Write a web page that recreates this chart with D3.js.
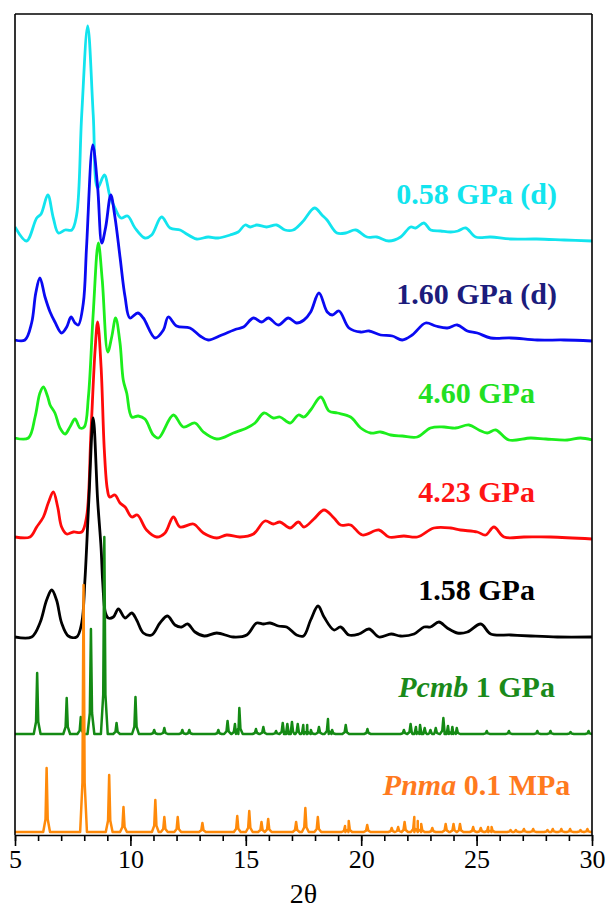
<!DOCTYPE html>
<html>
<head>
<meta charset="utf-8">
<script src="https://cdn.jsdelivr.net/npm/d3@7"></script>
<style>
  html, body { margin: 0; padding: 0; background: #fff; }
  svg { display: block; }
  text { font-family: "Liberation Serif", "Times New Roman", serif; }
</style>
</head>
<body>
<svg id="chart" width="608" height="910" font-family="Liberation Serif, Times New Roman, serif"></svg>
<script>
// ---- Measured patterns: [2θ, intensity] (arbitrary units) ----
const p058d = [[5.0,14],[5.5,0],[5.94,23],[6.13,27],[6.42,46],[6.66,23],[6.88,8],[7.17,11],[7.46,11],[7.67,26],[7.89,126],[8.15,215],[8.39,126],[8.58,53],[8.87,66],[9.12,44],[9.33,33],[9.59,23],[9.88,25],[10.2,13],[10.63,3],[10.92,6],[11.35,24],[11.72,13],[12.15,11],[12.37,8],[12.87,2],[13.37,4],[13.8,3],[14.32,6],[14.67,9],[14.97,16],[15.2,14],[15.47,16],[15.9,14],[16.34,16],[16.7,11],[17.05,11],[17.45,19],[17.98,33],[18.3,26],[18.52,21],[18.95,8],[19.33,8],[19.76,11],[20.25,4],[20.68,4],[21.2,0],[21.71,4],[22.14,14],[22.36,13],[22.72,18],[23.01,11],[23.44,10],[23.88,9],[24.19,10],[24.53,13],[24.96,4],[25.61,4],[26.48,2],[27.6,2],[28.8,1],[30,0]];

const p160d = [[5.0,1],[5.43,1],[5.72,18],[5.9,48],[6.08,63],[6.3,44],[6.52,29],[6.73,19],[7.02,8],[7.24,14],[7.43,24],[7.6,18],[7.74,16],[7.96,38],[8.1,94],[8.37,196],[8.58,154],[8.76,98],[8.93,114],[9.15,146],[9.33,124],[9.55,84],[9.77,44],[9.98,23],[10.32,28],[10.56,23],[11.07,3],[11.43,11],[11.64,24],[12.0,15],[12.58,13],[13.02,5],[13.37,1],[13.96,6],[14.6,12],[14.9,14],[15.33,23],[15.69,19],[15.98,23],[16.41,16],[16.84,23],[17.2,18],[17.52,21],[17.81,29],[18.17,48],[18.53,29],[18.75,26],[19.04,30],[19.47,13],[19.98,9],[20.34,10],[20.84,6],[21.35,5],[21.78,1],[22.21,6],[22.79,18],[23.23,15],[23.73,13],[24.16,16],[24.6,10],[25.03,8],[25.61,3],[26.48,3],[27.63,1],[28.79,1],[30,0]];

const p460 = [[5.0,2],[5.58,2],[5.87,23],[6.08,47],[6.23,53],[6.42,43],[6.52,35],[6.73,27],[6.95,12],[7.17,6],[7.38,13],[7.6,21],[7.82,12],[8.0,13],[8.18,43],[8.39,127],[8.61,197],[8.78,160],[9.02,88],[9.19,103],[9.36,122],[9.55,97],[9.69,60],[9.84,47],[10.06,23],[10.34,24],[10.63,21],[10.99,5],[11.22,2],[11.86,25],[12.29,13],[12.8,17],[13.16,8],[13.74,1],[14.46,7],[15.04,12],[15.4,17],[15.79,27],[16.19,22],[16.48,23],[16.92,17],[17.28,25],[17.52,23],[17.81,30],[18.25,43],[18.6,29],[18.97,27],[19.54,23],[19.98,12],[20.41,7],[20.84,8],[21.28,5],[21.78,4],[22.43,3],[23.0,12],[23.59,13],[24.09,12],[24.67,15],[25.1,10],[25.46,7],[25.83,10],[26.4,0],[27.34,2],[28.0,1],[28.93,0],[29.5,2],[30,0]];

const p423 = [[5.0,2],[5.65,2],[5.94,12],[6.23,22],[6.44,36],[6.66,47],[6.85,32],[7.02,12],[7.24,5],[7.53,7],[7.89,7],[8.1,22],[8.29,106],[8.47,189],[8.58,217],[8.73,172],[8.87,89],[9.0,50],[9.1,42],[9.33,44],[9.55,36],[9.77,32],[10.06,22],[10.3,24],[10.7,9],[11.14,2],[11.5,6],[11.86,22],[12.15,12],[12.73,15],[13.16,6],[13.74,1],[14.17,4],[14.75,2],[15.33,5],[15.83,18],[16.19,15],[16.48,17],[16.92,11],[17.28,17],[17.52,12],[17.95,20],[18.39,29],[18.82,21],[19.11,14],[19.54,14],[20.05,4],[20.77,9],[21.2,2],[21.85,3],[22.43,2],[23.15,11],[23.88,11],[24.3,9],[25.03,7],[25.39,4],[25.75,12],[26.19,2],[27.05,2],[28.2,2],[30,0]];

const p158 = [[5.0,0],[5.72,0],[6.08,14],[6.37,37],[6.59,47],[6.8,37],[7.02,14],[7.31,1],[7.67,0],[7.89,14],[8.03,57],[8.2,137],[8.39,219],[8.58,137],[8.73,89],[8.8,55],[8.92,24],[9.04,19],[9.26,20],[9.48,28],[9.77,19],[10.06,24],[10.27,17],[10.56,4],[10.92,2],[11.28,14],[11.61,21],[11.93,12],[12.22,10],[12.48,13],[12.8,5],[13.2,1],[13.74,4],[14.46,0],[15.04,2],[15.47,14],[15.76,13],[16.05,14],[16.41,11],[16.77,10],[17.2,2],[17.5,1],[17.81,17],[18.13,31],[18.39,20],[18.82,7],[19.11,10],[19.47,2],[19.9,3],[20.34,8],[20.77,0],[21.3,3],[21.7,1],[22.29,3],[22.72,10],[23.0,10],[23.37,15],[23.73,9],[24.16,4],[24.6,5],[25.18,13],[25.61,3],[26.48,2],[27.35,1],[28.5,0],[30,0]];

// ---- Calculated patterns: reflection positions (2θ) and heights ----
const pcmbPeaks = [[5.96,61],[7.24,36],[7.85,17],[8.29,105],[8.87,197],[9.40,11],[10.22,37],[11.03,4],[11.47,6],[12.25,4],[12.55,4],[13.81,4],[14.21,13],[14.53,10],[14.72,26],[15.44,5],[15.76,7],[16.31,3],[16.6,11],[16.8,10],[17.0,12],[17.25,10],[17.49,9],[17.66,9],[17.82,4],[18.17,7],[18.56,15],[18.74,4],[19.33,9],[20.27,5],[21.85,4],[22.14,10],[22.37,7],[22.55,9],[22.75,6],[23.0,4],[23.23,6],[23.56,16],[23.76,8],[23.95,7],[24.14,6],[25.44,3],[26.4,3],[27.63,3],[28.2,3],[29.07,2],[29.85,3]];

const pnmaPeaks = [[6.37,64],[7.97,247],[9.08,57],[9.70,25],[11.08,32],[11.47,15],[12.05,15],[13.12,9],[14.63,16],[15.15,21],[15.68,10],[15.97,13],[17.18,10],[17.58,24],[18.12,15],[19.30,6],[19.46,11],[20.26,7],[21.32,4],[21.6,5],[21.88,10],[22.3,15],[22.45,11],[22.6,8],[23.08,4],[23.66,8],[24.0,8],[24.28,8],[24.85,5],[25.18,4],[25.5,5],[25.65,5],[26.47,2],[26.7,2],[27.05,3],[27.45,3],[28.07,2],[28.3,3],[28.67,3],[29.05,3],[29.5,2],[29.8,3]];

// ---- Stack labels and vertical offsets ----
const labels = ["0.58 GPa (d)", "1.60 GPa (d)", "4.60 GPa", "4.23 GPa", "1.58 GPa", "Pcmb 1 GPa", "Pnma 0.1 MPa"];
const offsets = [591, 491, 392, 293, 195, 98, 0];
const xTicks = [5, 10, 15, 20, 25, 30];

// ---- Layout ----
const W = 608, H = 910;
const m = { left: 15, top: 14, right: 16, bottom: 75 };
const plotB = H - m.bottom;
const serif = "'Liberation Serif', 'Times New Roman', serif";

const svg = d3.select("#chart");

const x = d3.scaleLinear().domain([5, 30]).range([m.left, W - m.right]);
const y = d3.scaleLinear().domain([0, 818]).range([plotB - 3, m.top]);

svg.append("defs").append("clipPath").attr("id", "plot")
  .append("rect").attr("x", m.left).attr("y", m.top)
  .attr("width", W - m.right - m.left).attr("height", plotB - m.top);

// Spike profile for a calculated reflection list (shape in pixels)
const spikeHalf = 3.4, shoulder = 1.1;
function spikes(peaks) {
  const pxPerDeg = x(6) - x(5);
  const hw = spikeHalf / pxPerDeg, sh = shoulder / pxPerDeg;
  const pts = [[5, 0]];
  peaks.forEach(([t, h]) => {
    pts.push([t - hw, 0], [t - sh, h * 0.2], [t, h], [t + sh, h * 0.2], [t + hw, 0]);
  });
  pts.push([30, 0]);
  return pts.sort((a, b) => a[0] - b[0]);
}

const series = [
  { name: labels[0], data: p058d, off: offsets[0], line: "#12e4ee", text: "#12e4ee", smooth: true },
  { name: labels[1], data: p160d, off: offsets[1], line: "#0a0af2", text: "#1c1c7c", smooth: true },
  { name: labels[2], data: p460,  off: offsets[2], line: "#1cee1c", text: "#22e022", smooth: true },
  { name: labels[3], data: p423,  off: offsets[3], line: "#ff0a0a", text: "#ff1414", smooth: true },
  { name: labels[4], data: p158,  off: offsets[4], line: "#000000", text: "#000000", smooth: true },
  { name: labels[5], data: spikes(pcmbPeaks), off: offsets[5], line: "#148a14", text: "#1a8a1a", smooth: false, italic: "Pcmb" },
  { name: labels[6], data: spikes(pnmaPeaks), off: offsets[6], line: "#ff8a0a", text: "#ff7a1e", smooth: false, italic: "Pnma" }
];

const g = svg.append("g").attr("clip-path", "url(#plot)");
series.forEach(s => {
  const line = d3.line()
    .x(d => x(d[0]))
    .y(d => y(d[1] + s.off))
    .curve(s.smooth ? d3.curveCatmullRom.alpha(0.5) : d3.curveLinear);
  g.append("path")
    .datum(s.data)
    .attr("d", line)
    .attr("fill", "none")
    .attr("stroke", s.line)
    .attr("stroke-width", s.smooth ? 2.8 : 2.5)
    .attr("stroke-linejoin", "round");
});

// Series labels
series.forEach(s => {
  const t = svg.append("text")
    .attr("x", x(25))
    .attr("y", y(s.off + 37))
    .attr("text-anchor", "middle")
    .attr("font-family", serif)
    .attr("font-size", 30)
    .attr("font-weight", "bold")
    .attr("fill", s.text);
  if (s.italic) {
    t.append("tspan").attr("font-style", "italic").text(s.italic);
    t.append("tspan").text(s.name.slice(s.italic.length));
  } else {
    t.text(s.name);
  }
});

// Frame
const frame = svg.append("g").attr("stroke", "#000").attr("stroke-width", 1.6).attr("fill", "none");
frame.append("line").attr("x1", m.left).attr("x2", m.left).attr("y1", m.top).attr("y2", plotB);
frame.append("line").attr("x1", m.left).attr("x2", W - m.right).attr("y1", m.top).attr("y2", m.top);
frame.append("line").attr("x1", W - m.right).attr("x2", W - m.right).attr("y1", m.top).attr("y2", plotB);

// Minor ticks
svg.append("g")
  .attr("transform", `translate(0,${plotB})`)
  .call(d3.axisBottom(x).tickValues(d3.range(5, 31, 1)).tickSize(6).tickFormat(""))
  .call(a => a.select(".domain").remove())
  .call(a => a.selectAll("line").attr("stroke-width", 1.6));

// Major ticks and labels
const ax = svg.append("g")
  .attr("transform", `translate(0,${plotB})`)
  .call(d3.axisBottom(x).tickValues(xTicks).tickSize(11).tickSizeOuter(0).tickPadding(4));
ax.attr("font-family", serif).attr("font-size", 26);
ax.select(".domain").attr("stroke-width", 1.6);
ax.selectAll("line").attr("stroke-width", 1.6);
ax.selectAll("text").attr("fill", "#000");

// Axis title
svg.append("text")
  .attr("x", (x(5) + x(30)) / 2)
  .attr("y", plotB + 68)
  .attr("text-anchor", "middle")
  .attr("font-family", serif)
  .attr("font-size", 28)
  .text("2θ");
</script>
</body>
</html>
